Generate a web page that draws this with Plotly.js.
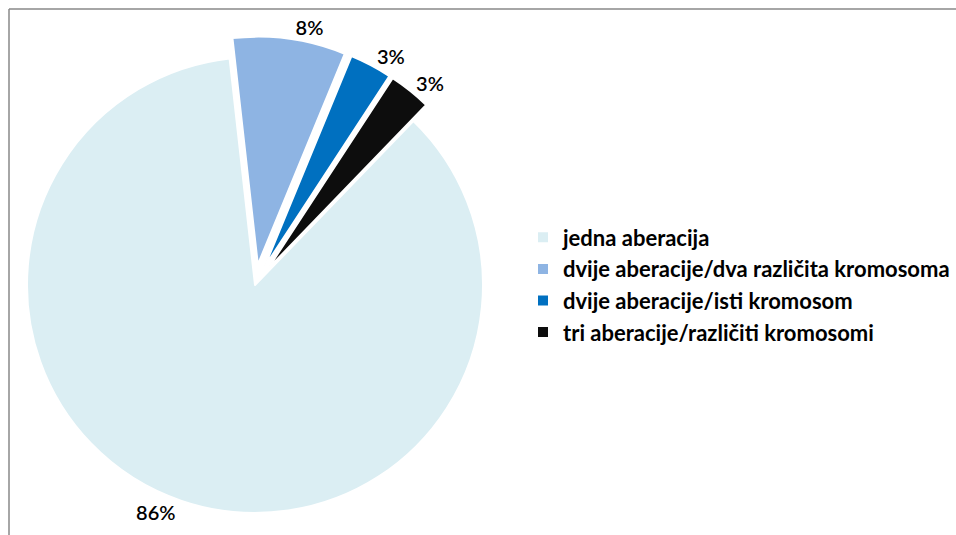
<!DOCTYPE html>
<html>
<head>
<meta charset="utf-8">
<script src="https://cdn.plot.ly/plotly-3.0.1.min.js"></script>
<style>
  html, body { margin: 0; padding: 0; background: #ffffff; }
  #chart { width: 956px; height: 535px; }
</style>
</head>
<body>
<div id="chart"></div>
<script>
const categories = [
  "jedna aberacija",
  "dvije aberacije/dva različita kromosoma",
  "dvije aberacije/isti kromosom",
  "tri aberacije/različiti kromosomi"
];
const percentValues = [86, 8, 3, 3];
const sliceColors = ["#DBEEF3", "#8EB4E3", "#0070C0", "#0D0D0D"];
const slicePull = [0, 0.09, 0.09, 0.09];

const W = 956, H = 535;
const cx = 255, cy = 285, R = 228;
const half = R * (1 + 0.09);

const trace = {
  type: "pie",
  labels: categories,
  values: percentValues,
  sort: false,
  direction: "clockwise",
  rotation: 44,
  pull: slicePull,
  marker: { colors: sliceColors, line: { color: "#ffffff", width: 2 } },
  textinfo: "percent",
  textposition: "outside",
  texttemplate: "%{percent:.0%}",
  outsidetextfont: { family: "Lato, 'Open Sans', sans-serif", size: 20, color: "#000000", weight: 600 },
  automargin: false,
  domain: {
    x: [(cx - half) / W, (cx + half) / W],
    y: [1 - (cy + half) / H, 1 - (cy - half) / H]
  },
  hoverinfo: "label+percent"
};

const layout = {
  width: W,
  height: H,
  margin: { l: 0, r: 0, t: 0, b: 0 },
  paper_bgcolor: "#ffffff",
  showlegend: true,
  legend: {
    x: 523 / W,
    xanchor: "left",
    y: 1 - 285 / H,
    yanchor: "middle",
    font: { family: "Lato, 'Open Sans', sans-serif", size: 22, color: "#000000", weight: 700 },
    itemwidth: 30,
    bgcolor: "rgba(0,0,0,0)"
  },
  shapes: [
    { type: "line", xref: "paper", yref: "paper", x0: 9 / W, x1: 1, y0: 1 - 9 / H, y1: 1 - 9 / H, line: { color: "#888888", width: 1.5 } },
    { type: "line", xref: "paper", yref: "paper", x0: 9 / W, x1: 9 / W, y0: 0, y1: 1 - 9 / H, line: { color: "#888888", width: 1.5 } }
  ]
};

Plotly.newPlot("chart", [trace], layout, { displayModeBar: false, staticPlot: true });
</script>
</body>
</html>
